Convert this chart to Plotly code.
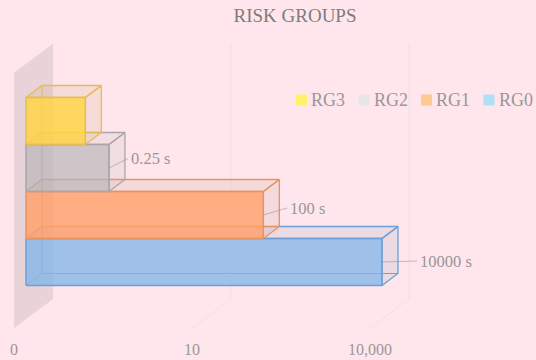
import math
import plotly.graph_objects as go

# Risk groups and their exposure limits, bottom band first
groups = ["RG0", "RG1", "RG2", "RG3"]
limits_s = [10000, 100, 0.25, 0.1]
value_labels = ["10000 s", "100 s", "0.25 s", None]
face_colors = ["rgba(134,182,232,0.8)", "rgba(255,160,106,0.82)", "rgba(182,180,182,0.65)", "rgba(255,210,70,0.85)"]
side_colors = ["rgba(150,160,190,0.18)", "rgba(190,150,140,0.16)", "rgba(170,170,170,0.14)", "rgba(200,170,110,0.16)"]
edge_colors = ["#6d9fd6", "#e9935f", "#a9a6a7", "#e6bd50"]
swatch_colors = ["#b1dff6", "#ffc98f", "#e8e5e6", "#fff26b"]
tick_values = [0.01, 10, 10000]
tick_labels = ["0", "10", "10,000"]
# Leader geometry per band: horizontal run and rise to the label, in pixels
leader_run = [35.0, 24.0, 19.0, 0.0]
leader_rise = [1.0, 7.0, 9.5, 0.0]

WIDTH, HEIGHT = 536, 360
BG = "#fee6ec"
TEXT = "#9a9698"
PX_PER_DECADE = 59.33
PX_PER_BAND = 47.0
DEPTH_X, DEPTH_Y = 16.0, 12.0
AXIS_X0 = 14.0
AXIS_MIN = 0.01
PLOT_H = 338.0
BASE_Y = 285.5
PLANE_DX = 12.0
LEGEND_X, LEGEND_Y, LEGEND_PITCH, SWATCH = 296.0, 100.0, 62.5, 11.0


def px(value, depth=0.0):
    """Data x of a value, sheared to a depth in units of one bar depth."""
    return value * 10 ** ((PLANE_DX + depth * DEPTH_X) / PX_PER_DECADE)


def py(band, depth=0.0):
    """Data y of a band position, sheared to the same depth."""
    return band + depth * DEPTH_Y / PX_PER_BAND


fig = go.Figure()


def polygon(points, fill, line=None, width=1.3):
    fig.add_trace(go.Scatter(
        x=[p[0] for p in points] + [points[0][0]],
        y=[p[1] for p in points] + [points[0][1]],
        mode="lines", fill="toself", fillcolor=fill,
        line=dict(color=line or "rgba(0,0,0,0)", width=width),
        hoverinfo="skip", showlegend=False,
    ))


def path(points, color, width=1.0):
    fig.add_trace(go.Scatter(
        x=[p[0] for p in points], y=[p[1] for p in points],
        mode="lines", line=dict(color=color, width=width),
        hoverinfo="skip", showlegend=False,
    ))


# Wall at the axis origin and the faint back/floor gridlines
FRONT, BACK = -0.75, 1.69
LOW, HIGH = -0.72, 4.72
polygon([(px(AXIS_MIN, FRONT), py(LOW, FRONT)), (px(AXIS_MIN, BACK), py(LOW, BACK)),
         (px(AXIS_MIN, BACK), py(HIGH, BACK)), (px(AXIS_MIN, FRONT), py(HIGH, FRONT))],
        "rgba(120,120,120,0.17)")
for tick in tick_values[1:]:
    path([(px(tick, BACK), py(HIGH, BACK)), (px(tick, BACK), py(LOW, BACK)),
          (px(tick, FRONT), py(LOW, FRONT))], "rgba(120,120,120,0.07)")

# One open box per group, stacked upward
for band, (limit, face, side, edge) in enumerate(zip(limits_s, face_colors, side_colors, edge_colors)):
    x0, x1 = AXIS_MIN, limit
    y0, y1 = band, band + 1
    # Rear edges, visible through the translucent faces
    path([(px(x0, 1), py(y0, 1)), (px(x1, 1), py(y0, 1))], edge)
    path([(px(x0, 1), py(y0, 1)), (px(x0, 1), py(y1, 1))], edge)
    path([(px(x0, 0), py(y0, 0)), (px(x0, 1), py(y0, 1))], edge)
    # Top and right faces
    polygon([(px(x0, 0), py(y1, 0)), (px(x1, 0), py(y1, 0)), (px(x1, 1), py(y1, 1)), (px(x0, 1), py(y1, 1))], side, edge)
    polygon([(px(x1, 0), py(y0, 0)), (px(x1, 1), py(y0, 1)), (px(x1, 1), py(y1, 1)), (px(x1, 0), py(y1, 0))], side, edge)
    # Front face
    polygon([(px(x0), py(y0)), (px(x1), py(y0)), (px(x1), py(y1)), (px(x0), py(y1))], face, edge, 1.5)

# Value labels with leaders from the right face
for band, (limit, label) in enumerate(zip(limits_s, value_labels)):
    if label is None:
        continue
    mid = band + 0.5
    end_x = limit * 10 ** ((PLANE_DX + leader_run[band]) / PX_PER_DECADE)
    end_y = mid + leader_rise[band] / PX_PER_BAND
    path([(px(limit), mid), (end_x, end_y)], "rgba(150,150,150,0.6)")
    fig.add_annotation(
        x=math.log10(end_x), y=end_y, text=label, xref="x", yref="y",
        xanchor="left", yanchor="middle", xshift=1, showarrow=False,
        font=dict(family="Liberation Serif", size=16.5, color=TEXT),
    )

# Legend row, top band first, laid out in paper coordinates
for i, (name, color) in enumerate(zip(reversed(groups), reversed(swatch_colors))):
    left = LEGEND_X + i * LEGEND_PITCH
    fig.add_shape(type="rect", xref="paper", yref="paper", line_width=0, fillcolor=color,
                  x0=left / WIDTH, x1=(left + SWATCH) / WIDTH,
                  y0=1 - (LEGEND_Y + SWATCH / 2) / PLOT_H, y1=1 - (LEGEND_Y - SWATCH / 2) / PLOT_H)
    fig.add_annotation(xref="paper", yref="paper", x=(left + SWATCH + 4) / WIDTH, y=1 - LEGEND_Y / PLOT_H,
                       text=name, showarrow=False, xanchor="left", yanchor="middle", borderpad=0, borderwidth=0,
                       font=dict(family="Liberation Serif", size=18, color=TEXT))

x_low = math.log10(AXIS_MIN) - AXIS_X0 / PX_PER_DECADE
x_high = x_low + WIDTH / PX_PER_DECADE
fig.update_layout(
    width=WIDTH, height=HEIGHT,
    margin=dict(l=0, r=0, t=0, b=HEIGHT - PLOT_H, pad=0),
    paper_bgcolor=BG, plot_bgcolor=BG,
    title=dict(text="RISK GROUPS", x=295 / WIDTH, xanchor="center", y=1 - 15 / HEIGHT, yanchor="middle",
               font=dict(family="Liberation Serif", size=19, color="#7f7b7d")),
    font=dict(family="Liberation Serif", color=TEXT),
    showlegend=False,
    xaxis=dict(type="log", range=[x_low, x_high], tickvals=tick_values, ticktext=tick_labels,
               showgrid=False, zeroline=False, showline=False, ticks="", ticklabelstandoff=0,
               tickfont=dict(family="Liberation Serif", size=16, color=TEXT), fixedrange=True),
    yaxis=dict(range=[(BASE_Y - PLOT_H) / PX_PER_BAND, BASE_Y / PX_PER_BAND], visible=False, fixedrange=True),
)

fig.write_html("out.html", config=dict(displayModeBar=False))
